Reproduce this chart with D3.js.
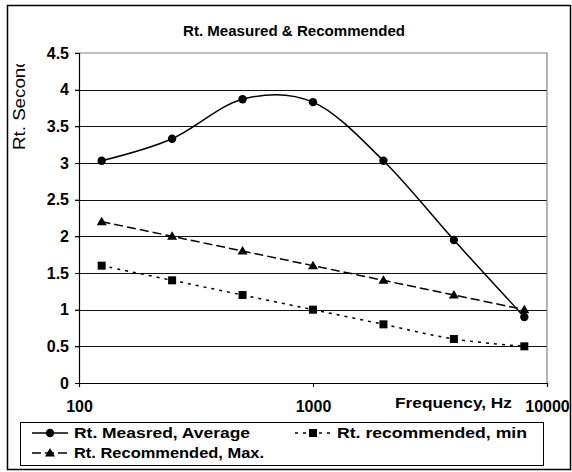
<!DOCTYPE html>
<html>
<head>
<meta charset="utf-8">
<script src="https://cdn.jsdelivr.net/npm/d3@7"></script>
<style>
  body { margin: 0; background: #fff; }
  svg { display: block; font-family: "Liberation Sans", Arial, sans-serif; }
</style>
</head>
<body>
<div id="chart"></div>
<script>
// dados
const frequencias = [125, 250, 500, 1000, 2000, 4000, 8000];
const medidoMedia = [3.03, 3.33, 3.87, 3.83, 3.03, 1.95, 0.9];
const recomendadoMax = [2.2, 2.0, 1.8, 1.6, 1.4, 1.2, 1.0];
const recomendadoMin = [1.6, 1.4, 1.2, 1.0, 0.8, 0.6, 0.5];
const ticksY = [0, 0.5, 1, 1.5, 2, 2.5, 3, 3.5, 4, 4.5];
const ticksX = [100, 1000, 10000];
const nomesSeries = ["Rt. Measred, Average", "Rt. recommended, min", "Rt. Recommended, Max."];

const width = 572;
const height = 472;

const svg = d3.select("#chart").append("svg")
    .attr("width", width)
    .attr("height", height)
    .attr("viewBox", [0, 0, width, height]);

// borda externa
svg.append("rect")
    .attr("x", 7.5).attr("y", 5.5)
    .attr("width", 563).attr("height", 464)
    .attr("fill", "#fff")
    .attr("stroke", "#000")
    .attr("stroke-width", 1.5);

const x = d3.scaleLog().domain([100, 10000]).range([79, 547]);
const y = d3.scaleLinear().domain([0, 4.5]).range([383, 53]);

// título
svg.append("text")
    .attr("x", 294).attr("y", 36)
    .attr("text-anchor", "middle")
    .attr("font-weight", "bold")
    .attr("font-size", 15)
    .attr("textLength", 222)
    .attr("lengthAdjust", "spacingAndGlyphs")
    .text("Rt. Measured & Recommended");

// linhas de grade
svg.append("g")
    .selectAll("line")
    .data(ticksY.slice(1, -1))
    .join("line")
    .attr("x1", 75).attr("x2", 547)
    .attr("y1", d => Math.round(y(d)) + 0.5)
    .attr("y2", d => Math.round(y(d)) + 0.5)
    .attr("stroke", "#111")
    .attr("stroke-width", 1.2);

// borda da área do gráfico (topo e direita cinza)
svg.append("path")
    .attr("d", `M75,${y(4.5)}H${x(10000)}V${y(0)}`)
    .attr("fill", "none")
    .attr("stroke", "#808080")
    .attr("stroke-width", 1.2);

// eixo Y
const eixoY = svg.append("g")
    .attr("transform", `translate(${x(100)},0)`)
    .call(d3.axisLeft(y).tickValues(ticksY).tickSize(4).tickPadding(6).tickFormat(d3.format("")));
eixoY.select(".domain").attr("stroke", "#000").attr("stroke-width", 1.2);
eixoY.selectAll("text")
    .attr("font-size", 16)
    .attr("font-weight", "bold")
    .attr("font-family", "Liberation Sans, Arial, sans-serif")
    .attr("fill", "#000");

// eixo X
const eixoX = svg.append("g")
    .attr("transform", `translate(0,${y(0)})`)
    .call(d3.axisBottom(x).tickValues(ticksX).tickSize(4).tickPadding(14).tickFormat(d3.format("d")));
eixoX.select(".domain").attr("stroke", "#000").attr("stroke-width", 1.2);
eixoX.selectAll("text")
    .attr("font-size", 16)
    .attr("font-weight", "bold")
    .attr("font-family", "Liberation Sans, Arial, sans-serif")
    .attr("fill", "#000");

// título eixo X
svg.append("text")
    .attr("x", 395).attr("y", 408)
    .attr("font-weight", "bold")
    .attr("font-size", 15)
    .attr("textLength", 117)
    .attr("lengthAdjust", "spacingAndGlyphs")
    .text("Frequency, Hz");

// título eixo Y (cortado como no original)
svg.append("clipPath").attr("id", "corteY")
    .append("rect").attr("x", 0).attr("y", 64).attr("width", 40).attr("height", 200);
svg.append("g")
    .attr("clip-path", "url(#corteY)")
    .append("text")
    .attr("transform", "translate(25,150) rotate(-90)")
    .attr("font-size", 16)
    .attr("textLength", 102)
    .attr("lengthAdjust", "spacingAndGlyphs")
    .text("Rt. Seconds");

// séries
const linha = d3.line()
    .x((d, i) => x(frequencias[i]))
    .y(d => y(d))
    .curve(d3.curveCardinal.tension(0));

const series = [
    { valores: medidoMedia, dash: null, marcador: "circle" },
    { valores: recomendadoMin, dash: "3,5", marcador: "square" },
    { valores: recomendadoMax, dash: "9,4", marcador: "triangle" }
];

function desenhaMarcador(g, tipo, cx, cy) {
    if (tipo === "circle") {
        g.append("circle").attr("cx", cx).attr("cy", cy).attr("r", 4.2).attr("fill", "#000");
    } else if (tipo === "square") {
        g.append("rect").attr("x", cx - 4).attr("y", cy - 4).attr("width", 8).attr("height", 8).attr("fill", "#000");
    } else {
        g.append("path").attr("d", `M${cx},${cy - 5}L${cx + 5},${cy + 3.5}L${cx - 5},${cy + 3.5}Z`).attr("fill", "#000");
    }
}

series.forEach(s => {
    svg.append("path")
        .datum(s.valores)
        .attr("d", linha)
        .attr("fill", "none")
        .attr("stroke", "#000")
        .attr("stroke-width", 1.5)
        .attr("stroke-dasharray", s.dash);
    const gm = svg.append("g");
    s.valores.forEach((v, i) => desenhaMarcador(gm, s.marcador, x(frequencias[i]), y(v)));
});

// legenda
const legenda = svg.append("g");
legenda.append("rect")
    .attr("x", 20.5).attr("y", 422.5)
    .attr("width", 523).attr("height", 43)
    .attr("fill", "#fff")
    .attr("stroke", "#000")
    .attr("stroke-width", 1);

const itensLegenda = [
    { nome: nomesSeries[0], x0: 32, y0: 433, dash: null, marcador: "circle", largura: 176 },
    { nome: nomesSeries[1], x0: 295, y0: 433, dash: "3,5", marcador: "square", largura: 190 },
    { nome: nomesSeries[2], x0: 32, y0: 453, dash: "9,4", marcador: "triangle", largura: 190 }
];
itensLegenda.forEach(it => {
    legenda.append("line")
        .attr("x1", it.x0).attr("x2", it.x0 + 36)
        .attr("y1", it.y0).attr("y2", it.y0)
        .attr("stroke", "#000")
        .attr("stroke-width", 1.5)
        .attr("stroke-dasharray", it.dash);
    desenhaMarcador(legenda, it.marcador, it.x0 + 18, it.y0);
    legenda.append("text")
        .attr("x", it.x0 + 42).attr("y", it.y0)
        .attr("dy", "0.35em")
        .attr("font-weight", "bold")
        .attr("font-size", 14.5)
        .attr("textLength", it.largura)
        .attr("lengthAdjust", "spacingAndGlyphs")
        .text(it.nome);
});
</script>
</body>
</html>
